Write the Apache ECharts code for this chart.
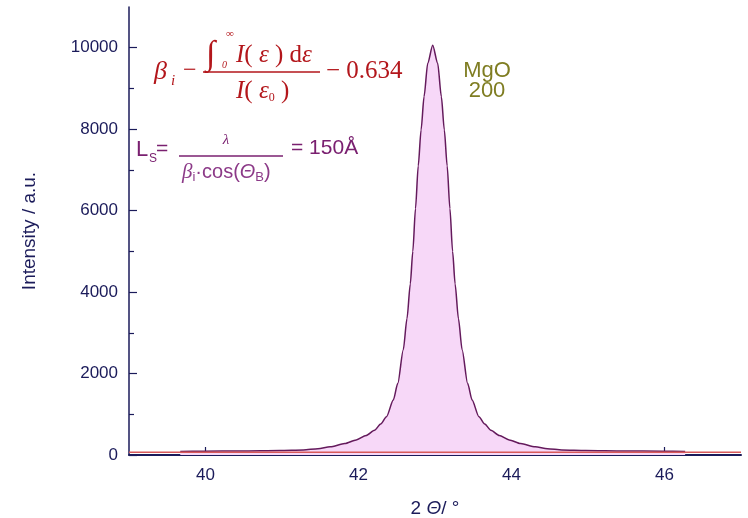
<!DOCTYPE html>
<html>
<head>
<meta charset="utf-8">
<script src="https://cdn.jsdelivr.net/npm/echarts@6/dist/echarts.min.js"></script>
<style>
  html, body { margin: 0; padding: 0; background: #ffffff; }
  #chart { width: 748px; height: 518px; }
</style>
</head>
<body>
<div id="chart"></div>
<script>
// MgO (200) reflection: diffraction angle 2θ (deg) and measured intensity (a.u.)
const twoTheta = [39.67, 39.97, 40.47, 40.97, 41.28, 41.47, 41.63, 41.82, 41.97, 42.1, 42.21, 42.29,
                  42.366, 42.455, 42.514, 42.585, 42.634, 42.677, 42.71, 42.745, 42.781, 42.818,
                  42.857, 42.905, 42.97, 43.035, 43.083, 43.122, 43.159, 43.195, 43.23, 43.263,
                  43.306, 43.355, 43.426, 43.485, 43.574, 43.65, 43.73, 43.84, 43.97, 44.12,
                  44.31, 44.47, 44.66, 44.97, 45.47, 45.97, 46.27];
const intensity = [88, 92, 100, 112, 125, 155, 200, 280, 370, 480, 610, 760,
                   940, 1350, 1760, 2580, 3350, 4200, 5000, 6050, 7100, 7980,
                   8800, 9620, 10060, 9620, 8800, 7980, 7100, 6050, 5000, 4200,
                   3350, 2580, 1760, 1350, 940, 760, 610, 480, 370, 280,
                   200, 155, 125, 112, 100, 92, 88];

// background level
const baselineX = [39, 47];
const baselineY = [70, 70];

// axis ranges and tick positions
const xRange = [39, 47];
const yRange = [0, 11000];
const xMajorTicks = [40, 42, 44, 46];
const xMinorTicks = [41, 43, 45];
const yMajorTicks = [0, 2000, 4000, 6000, 8000, 10000];
const yMinorTicks = [1000, 3000, 5000, 7000, 9000];

const AXIS = '#1b1b5a';
const RED = '#b3161b';
const PURPLE = '#7a2070';
const PURPLE_LIGHT = '#8c3a88';
const OLIVE = '#7f7d22';
const SANS = '"Liberation Sans", Arial, sans-serif';
const SERIF = '"Liberation Serif", "Times New Roman", serif';

const chart = echarts.init(document.getElementById('chart'), null, { renderer: 'canvas' });

function majorX() {
  return {
    type: 'value', min: xRange[0], max: xRange[1], position: 'bottom',
    axisLine: { show: true, onZero: false, lineStyle: { color: AXIS, width: 2 } },
    axisTick: { show: true, inside: true, length: 8, customValues: xMajorTicks,
                lineStyle: { color: AXIS, width: 1.2 } },
    axisLabel: { customValues: xMajorTicks, margin: 12, color: AXIS, fontSize: 17, fontFamily: SANS,
                 formatter: v => String(v) },
    splitLine: { show: false },
    name: '2 {th|Θ}/ °', nameLocation: 'middle', nameGap: 44,
    nameTextStyle: { color: AXIS, fontSize: 19, fontFamily: SANS,
                     rich: { th: { fontStyle: 'italic', fontSize: 19, fontFamily: SANS, color: AXIS } } }
  };
}
function minorX() {
  return {
    type: 'value', min: xRange[0], max: xRange[1], position: 'bottom', offset: 0,
    axisLine: { show: false, onZero: false },
    axisTick: { show: true, inside: true, length: 5, customValues: xMinorTicks,
                lineStyle: { color: AXIS, width: 1.2 } },
    axisLabel: { show: false }, splitLine: { show: false }
  };
}
function majorY() {
  return {
    type: 'value', min: yRange[0], max: yRange[1], position: 'left',
    axisLine: { show: true, onZero: false, lineStyle: { color: AXIS, width: 1.5 } },
    axisTick: { show: true, inside: true, length: 8, customValues: yMajorTicks,
                lineStyle: { color: AXIS, width: 1.2 } },
    axisLabel: { customValues: yMajorTicks, margin: 11, color: AXIS, fontSize: 17, fontFamily: SANS,
                 formatter: v => String(v) },
    splitLine: { show: false },
    name: 'Intensity / a.u.', nameLocation: 'middle', nameGap: 90,
    nameTextStyle: { color: AXIS, fontSize: 19, fontFamily: SANS }
  };
}
function minorY() {
  return {
    type: 'value', min: yRange[0], max: yRange[1], position: 'left', offset: 0,
    axisLine: { show: false, onZero: false },
    axisTick: { show: true, inside: true, length: 5, customValues: yMinorTicks,
                lineStyle: { color: AXIS, width: 1.2 } },
    axisLabel: { show: false }, splitLine: { show: false }
  };
}

function txt(x, y, text, font, fill, extra) {
  return { type: 'text', x: x, y: y, z: 50,
           style: Object.assign({ text: text, font: font, fill: fill, verticalAlign: 'middle' }, extra || {}) };
}
function bar(x1, x2, y, color) {
  return { type: 'line', z: 50, shape: { x1: x1, y1: y, x2: x2, y2: y },
           style: { stroke: color, lineWidth: 1.3 } };
}

const serifRich = {
  i: { fontStyle: 'italic', fontFamily: SERIF, fontSize: 25, color: RED },
  n: { fontFamily: SERIF, fontSize: 25, color: RED },
  s: { fontFamily: SERIF, fontSize: 12, color: RED, verticalAlign: 'bottom', padding: [10, 0, 0, 0] }
};

const graphics = [
  // integral breadth formula
  txt(154, 72, 'β', 'italic 26px ' + SERIF, RED),
  txt(171, 81, 'i', 'italic 15px ' + SERIF, RED),
  txt(183, 71, '−', '24px ' + SERIF, RED),
  bar(203, 320, 72, RED),
  txt(206, 55, '∫', 'italic 34px ' + SERIF, RED),
  txt(226, 34, '∞', '11px ' + SERIF, RED),
  txt(222, 65, '0', 'italic 10px ' + SERIF, RED),
  { type: 'text', x: 236, y: 55, z: 50,
    style: { text: '{i|I}{n|( }{i|ε}{n| ) d}{i|ε}', rich: serifRich, verticalAlign: 'middle', fill: RED } },
  { type: 'text', x: 236, y: 91, z: 50,
    style: { text: '{i|I}{n|( }{i|ε}{s|0}{n| )}', rich: serifRich, verticalAlign: 'middle', fill: RED } },
  txt(326, 71, '− 0.634', '25px ' + SERIF, RED),

  // crystallite size formula
  txt(136, 150, 'L', '22px ' + SANS, PURPLE),
  txt(149, 159, 'S', '12px ' + SANS, PURPLE),
  txt(156, 149, '=', '21px ' + SANS, PURPLE),
  bar(179, 283, 156, PURPLE),
  txt(226, 140, 'λ', 'italic 15px ' + SERIF, PURPLE, { align: 'center' }),
  { type: 'text', x: 182, y: 172, z: 50,
    style: { text: '{b|β}{s|i}{n|·cos(}{t|Θ}{s|B}{n|)}', verticalAlign: 'middle', fill: PURPLE_LIGHT,
             rich: {
               b: { fontStyle: 'italic', fontFamily: SERIF, fontSize: 21, color: PURPLE_LIGHT },
               s: { fontFamily: SANS, fontSize: 13, color: PURPLE_LIGHT, verticalAlign: 'bottom', padding: [10, 0, 0, 0] },
               n: { fontFamily: SANS, fontSize: 20, color: PURPLE_LIGHT },
               t: { fontStyle: 'italic', fontFamily: SANS, fontSize: 20, color: PURPLE_LIGHT }
             } } },
  txt(291, 148, '= 150Å', '21px ' + SANS, PURPLE),

  // reflection label
  txt(487, 71, 'MgO', '22px ' + SANS, OLIVE, { align: 'center' }),
  txt(487, 91, '200', '22px ' + SANS, OLIVE, { align: 'center' })
];

chart.setOption({
  backgroundColor: '#ffffff',
  animation: false,
  grid: { left: 129, right: 7, top: 7, bottom: 63, containLabel: false, outerBoundsMode: 'none' },
  xAxis: [majorX(), minorX()],
  yAxis: [majorY(), minorY()],
  series: [
    {
      type: 'line', xAxisIndex: 0, yAxisIndex: 0,
      data: twoTheta.map((x, i) => [x, intensity[i]]),
      showSymbol: false, smooth: 0.25, smoothMonotone: 'x',
      lineStyle: { color: '#641a5c', width: 1.5 },
      areaStyle: { color: '#f7d8f8', opacity: 1, origin: 0 },
      z: 3
    },
    {
      type: 'line', xAxisIndex: 0, yAxisIndex: 0,
      data: baselineX.map((x, i) => [x, baselineY[i]]),
      showSymbol: false,
      lineStyle: { color: '#d85a5a', width: 1.5 },
      z: 4
    }
  ],
  graphic: graphics
});
</script>
</body>
</html>
